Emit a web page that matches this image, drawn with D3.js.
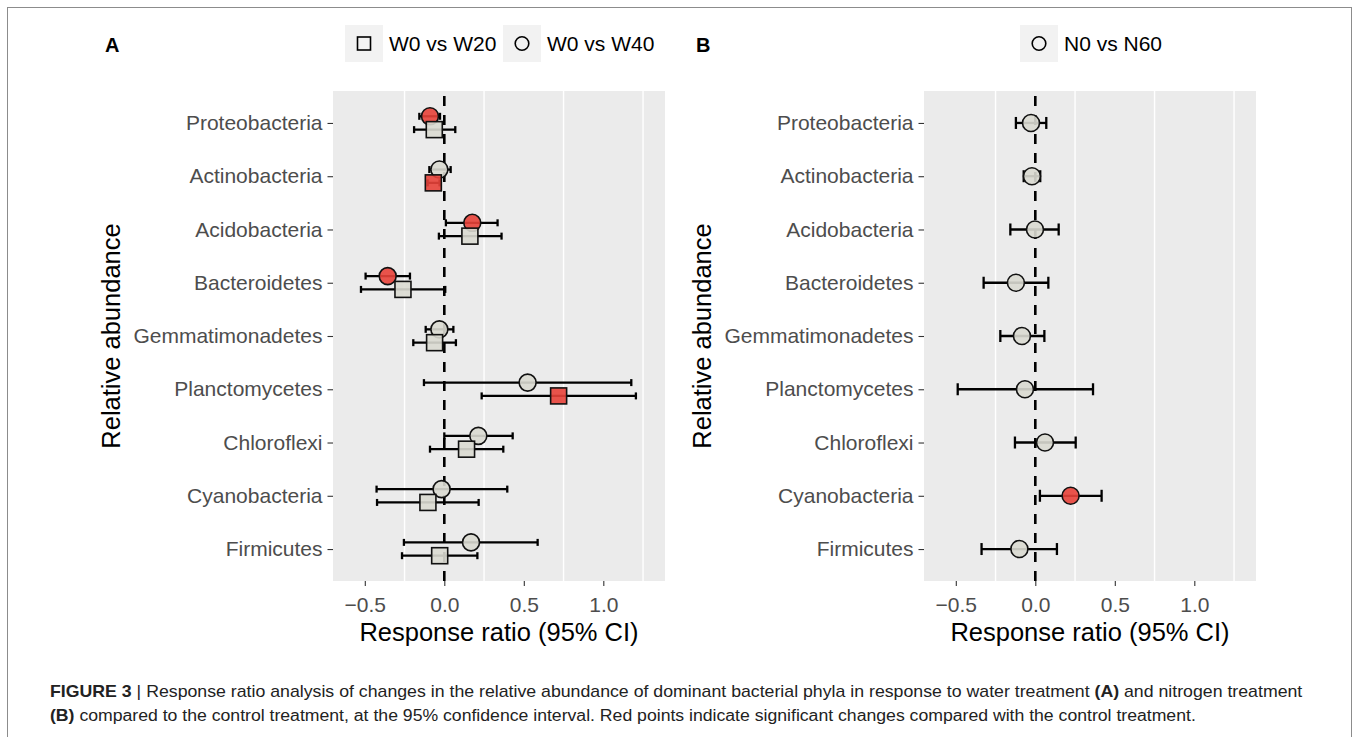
<!doctype html>
<html lang="en">
<head>
  <meta charset="utf-8">
  <title>Figure 3 response ratio</title>
  <script src="https://d3js.org/d3.v7.min.js"></script>
  <style>
    body {
      margin: 0px;
      background: #ffffff;
    }
    text {
      font-family: "Liberation Sans", Arial, Helvetica, sans-serif;
    }
    .axis text {
      fill: #4d4d4d;
      font-size: 21px;
      font-family: "Liberation Sans", Arial, Helvetica, sans-serif;
    }
    .axis line {
      stroke: #333333;
      stroke-width: 1.1;
    }
    .axis path.domain {
      display: none;
    }
    .axis-title {
      fill: #000000;
      font-size: 25.5px;
    }
  </style>
</head>
<body>
  <div id="container"></div>

  <script>
    // categories (top to bottom)
    var phyla = ["Proteobacteria", "Actinobacteria", "Acidobacteria", "Bacteroidetes",
                 "Gemmatimonadetes", "Planctomycetes", "Chloroflexi", "Cyanobacteria", "Firmicutes"];

    // panel A, W0 vs W20 (squares)
    var w20Mean = [-0.063, -0.069, 0.161, -0.260, -0.061, 0.719, 0.140, -0.103, -0.029];
    var w20Low  = [-0.190, -0.105, -0.034, -0.524, -0.195, 0.235, -0.090, -0.423, -0.266];
    var w20High = [0.069, -0.030, 0.360, 0.006, 0.073, 1.205, 0.371, 0.216, 0.208];
    var w20Sig  = [false, true, false, false, false, true, false, false, false];

    // panel A, W0 vs W40 (circles)
    var w40Mean = [-0.090, -0.031, 0.176, -0.356, -0.031, 0.524, 0.214, -0.017, 0.168];
    var w40Low  = [-0.157, -0.094, 0.010, -0.495, -0.117, -0.128, 0.000, -0.426, -0.254];
    var w40High = [-0.027, 0.040, 0.335, -0.216, 0.057, 1.176, 0.430, 0.396, 0.587];
    var w40Sig  = [true, false, true, true, false, false, false, false, false];

    // panel B, N0 vs N60 (circles)
    var n60Mean = [-0.027, -0.021, -0.002, -0.122, -0.084, -0.065, 0.061, 0.222, -0.100];
    var n60Low  = [-0.122, -0.073, -0.157, -0.325, -0.220, -0.488, -0.128, 0.029, -0.338];
    var n60High = [0.069, 0.031, 0.147, 0.082, 0.057, 0.363, 0.254, 0.417, 0.136];
    var n60Sig  = [false, false, false, false, false, false, false, true, false];

    var xTicks = [-0.5, 0, 0.5, 1.0];
    var xGrid = [-0.25, 0.25, 0.75, 1.25];

    var svg = d3.select('div#container').append('svg')
        .attr('width', 1359)
        .attr('height', 737);

    svg.append('rect')
        .attr('x', 0).attr('y', 0)
        .attr('width', 1359).attr('height', 737)
        .attr('fill', '#ffffff');

    // figure frame
    svg.append('rect')
        .attr('x', 7.5).attr('y', 7.5)
        .attr('width', 1344).attr('height', 760)
        .attr('fill', 'none')
        .attr('stroke', '#8c8c8c')
        .attr('stroke-width', 1);

    function makeSeries(mean, low, high, sig) {
        return phyla.map(function (p, i) {
            return {cat: p, mean: mean[i], low: low[i], high: high[i], sig: sig[i]};
        });
    }

    function drawPanel(left, series, legend, label) {
        var top = 91, height = 490, width = 332;

        var x = d3.scaleLinear()
            .domain([-0.70, 1.388])
            .range([left, left + width]);

        var y = d3.scalePoint()
            .domain(phyla)
            .range([top, top + height])
            .padding(0.6);

        var g = svg.append('g');

        g.append('rect')
            .attr('x', left).attr('y', top)
            .attr('width', width).attr('height', height)
            .attr('fill', '#ebebeb');

        g.append('g').selectAll('line')
            .data(xGrid)
            .enter()
            .append('line')
                .attr('x1', function (d) { return x(d); })
                .attr('x2', function (d) { return x(d); })
                .attr('y1', top)
                .attr('y2', top + height)
                .attr('stroke', '#ffffff')
                .attr('stroke-width', 1.4);

        // zero line
        g.append('line')
            .attr('x1', x(0)).attr('x2', x(0))
            .attr('y1', top + height).attr('y2', top)
            .attr('stroke', '#000')
            .attr('stroke-width', 2.6)
            .attr('stroke-dasharray', '10,9');

        g.append('g')
            .attr('class', 'axis')
            .attr('transform', 'translate(' + left + ',0)')
            .call(d3.axisLeft(y).tickSize(5.5).tickPadding(5));

        g.append('g')
            .attr('class', 'axis')
            .attr('transform', 'translate(0,' + (top + height) + ')')
            .call(d3.axisBottom(x)
                    .tickValues(xTicks)
                    .tickFormat(d3.format('.1f'))
                    .tickSize(5)
                    .tickPadding(11));

        g.append('text')
            .attr('class', 'axis-title')
            .attr('x', left + width / 2)
            .attr('y', 641)
            .style('text-anchor', 'middle')
            .text('Response ratio (95% CI)');

        g.append('text')
            .attr('class', 'axis-title')
            .attr('transform', 'translate(' + (left - 213) + ',' + (top + height / 2) + ') rotate(-90)')
            .style('text-anchor', 'middle')
            .text('Relative abundance');

        g.append('text')
            .attr('x', left - 228)
            .attr('y', 52)
            .style('font-weight', 'bold')
            .style('font-size', '20px')
            .text(label);

        var step = y.step();

        series.forEach(function (s) {
            var dy = s.dodge * step;
            var bars = g.append('g').selectAll('g')
                .data(s.data)
                .enter()
                .append('g');

            bars.append('line')
                .attr('x1', function (d) { return x(d.low); })
                .attr('x2', function (d) { return x(d.high); })
                .attr('y1', function (d) { return y(d.cat) + dy; })
                .attr('y2', function (d) { return y(d.cat) + dy; })
                .attr('stroke', '#000')
                .attr('stroke-width', 2.3);

            ['low', 'high'].forEach(function (k) {
                bars.append('line')
                    .attr('x1', function (d) { return x(d[k]); })
                    .attr('x2', function (d) { return x(d[k]); })
                    .attr('y1', function (d) { return y(d.cat) + dy - s.cap; })
                    .attr('y2', function (d) { return y(d.cat) + dy + s.cap; })
                    .attr('stroke', '#000')
                    .attr('stroke-width', 2.3);
            });
        });

        series.forEach(function (s) {
            var dy = s.dodge * step;
            var pts = g.append('g').selectAll('.pt')
                .data(s.data)
                .enter();

            if (s.shape === 'square') {
                pts.append('rect')
                    .attr('x', function (d) { return x(d.mean) - 8; })
                    .attr('y', function (d) { return y(d.cat) + dy - 8; })
                    .attr('width', 16)
                    .attr('height', 16)
                    .attr('fill', function (d) { return d.sig ? '#e8423a' : '#dadad2'; })
                    .attr('fill-opacity', 0.9)
                    .attr('stroke', '#111')
                    .attr('stroke-width', 1.6);
            } else {
                pts.append('circle')
                    .attr('cx', function (d) { return x(d.mean); })
                    .attr('cy', function (d) { return y(d.cat) + dy; })
                    .attr('r', 8.5)
                    .attr('fill', function (d) { return d.sig ? '#e8423a' : '#dadad2'; })
                    .attr('fill-opacity', 0.9)
                    .attr('stroke', '#111')
                    .attr('stroke-width', 1.6);
            }
        });

        // legend
        legend.forEach(function (item) {
            var lg = g.append('g')
                .attr('transform', 'translate(' + item.x + ',25)');
            lg.append('rect')
                .attr('width', 38).attr('height', 37)
                .attr('fill', '#f2f2f2');
            if (item.shape === 'square') {
                lg.append('rect')
                    .attr('x', 12.5).attr('y', 12)
                    .attr('width', 13).attr('height', 13)
                    .attr('fill', 'none')
                    .attr('stroke', '#000')
                    .attr('stroke-width', 1.6);
            } else {
                lg.append('circle')
                    .attr('cx', 19).attr('cy', 18.5)
                    .attr('r', 6.8)
                    .attr('fill', 'none')
                    .attr('stroke', '#000')
                    .attr('stroke-width', 1.6);
            }
            lg.append('text')
                .attr('x', 44)
                .attr('y', 26)
                .style('font-size', '21px')
                .style('fill', '#000')
                .text(item.text);
        });
    }

    drawPanel(333, [
        {data: makeSeries(w40Mean, w40Low, w40High, w40Sig), shape: 'circle', dodge: -0.125, cap: 3.5},
        {data: makeSeries(w20Mean, w20Low, w20High, w20Sig), shape: 'square', dodge: 0.125, cap: 3.5}
    ], [
        {x: 345, shape: 'square', text: 'W0 vs W20'},
        {x: 503, shape: 'circle', text: 'W0 vs W40'}
    ], 'A');

    drawPanel(924, [
        {data: makeSeries(n60Mean, n60Low, n60High, n60Sig), shape: 'circle', dodge: 0, cap: 6}
    ], [
        {x: 1020, shape: 'circle', text: 'N0 vs N60'}
    ], 'B');

    // caption
    var caption = [
        {y: 697, target: 1253, parts: [
            {t: 'FIGURE 3 ', b: true}, {t: '| Response ratio analysis of changes in the relative abundance of dominant bacterial phyla in response to water treatment ', b: false},
            {t: '(A)', b: true}, {t: ' and nitrogen treatment', b: false}]},
        {y: 721, target: 1147, parts: [
            {t: '(B)', b: true}, {t: ' compared to the control treatment, at the 95% confidence interval. Red points indicate significant changes compared with the control treatment.', b: false}]}
    ];

    caption.forEach(function (line) {
        var t = svg.append('text')
            .attr('x', 50)
            .attr('y', line.y)
            .style('font-size', '16px')
            .style('fill', '#222');
        line.parts.forEach(function (p) {
            t.append('tspan')
                .style('font-weight', p.b ? 'bold' : 'normal')
                .text(p.t);
        });
        var w = t.node().getComputedTextLength();
        var k = line.target / w;
        t.attr('transform', 'translate(50,0) scale(' + k + ',1) translate(-50,0)');
    });
  </script>
</body>
</html>
